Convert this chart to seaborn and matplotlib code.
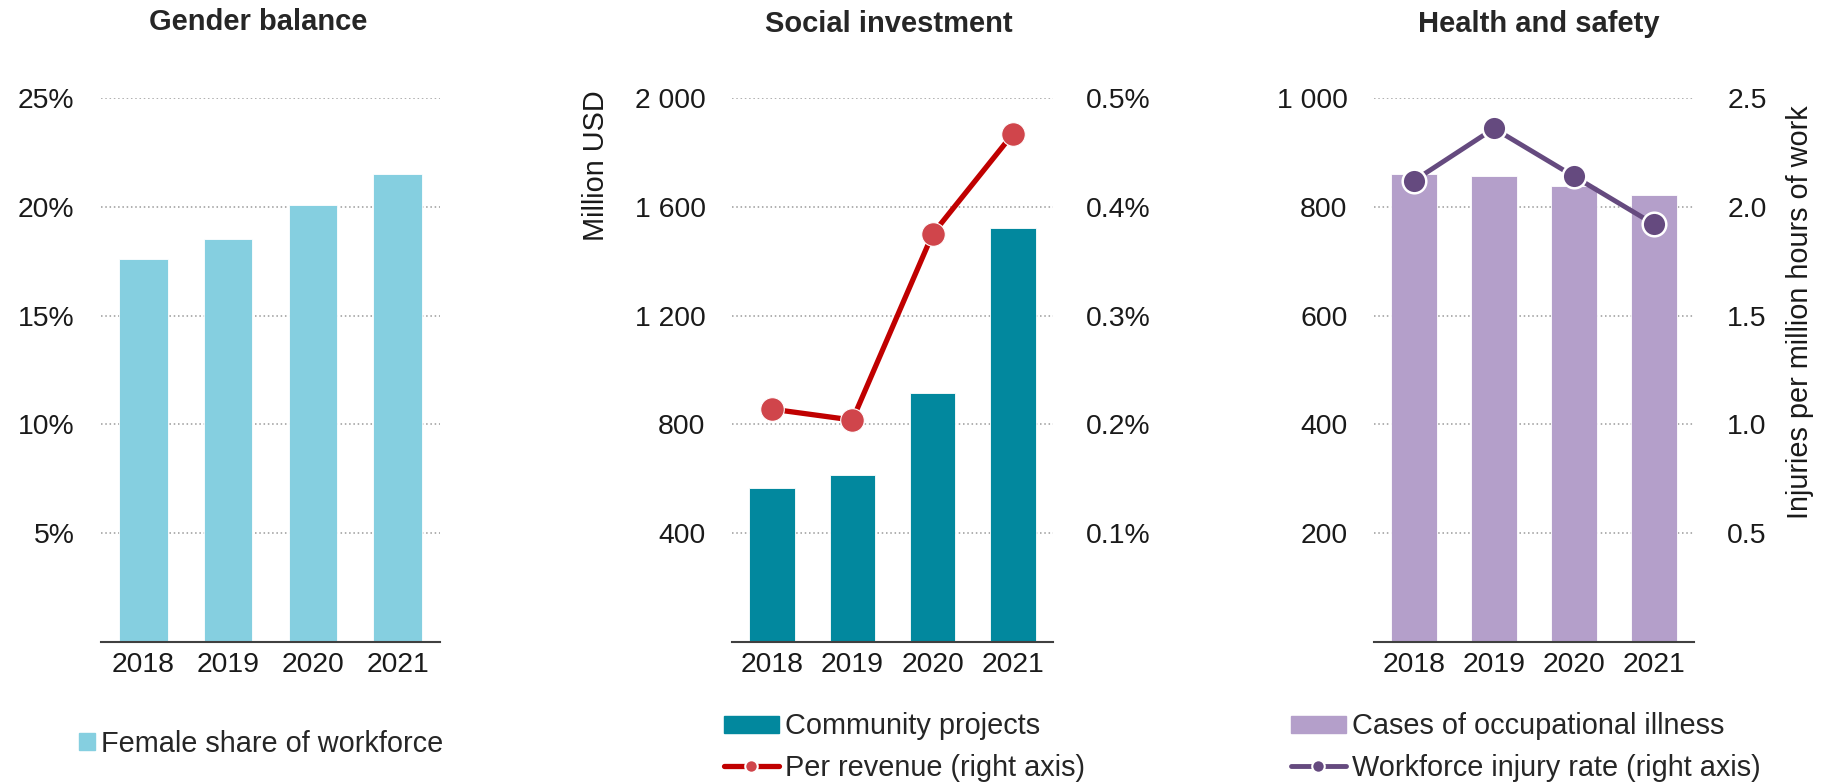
import numpy as np
import matplotlib
matplotlib.use('Agg')
import matplotlib.pyplot as plt
import seaborn as sns
from matplotlib.ticker import FuncFormatter, FixedLocator
from matplotlib.lines import Line2D
from matplotlib.patches import Patch

sns.set_style('white')
plt.rcParams['font.family'] = ['Liberation Sans', 'DejaVu Sans']

# data
years = ['2018', '2019', '2020', '2021']
female_share = [17.6, 18.5, 20.1, 21.5]           # % of workforce
community_projects = [565, 615, 916, 1523]        # million USD
per_revenue = [0.214, 0.204, 0.375, 0.467]        # % of revenue (right axis)
illness_cases = [861, 856, 839, 822]              # cases
injury_rate = [2.12, 2.36, 2.14, 1.92]            # per million hours (right axis)

LIGHT_BLUE = '#85cfe0'
TEAL = '#02889e'
LAVENDER = '#b49fca'
RED_LINE = '#c00000'
RED_DOT = '#d0454b'
PURPLE = '#654a7f'
FS = 20.4      # tick labels
LFS = 20.8     # legend / axis labels

W, H = 1828, 783
fig = plt.figure(figsize=(W / 100, H / 100), dpi=100)


def px_axes(x0, x1, y_top=98, y_bot=642):
    return fig.add_axes([x0 / W, 1 - y_bot / H, (x1 - x0) / W, (y_bot - y_top) / H])


def style_axis(ax, ymax, step, fmt):
    ax.set_ylim(0, ymax)
    ax.set_xlim(-0.5, len(years) - 0.5)
    ticks = np.arange(step, ymax + step / 2, step)
    ax.yaxis.set_major_locator(FixedLocator(ticks))
    ax.yaxis.set_major_formatter(FuncFormatter(fmt))
    ax.grid(axis='y', color='#9a9a9a', linestyle=(0, (1, 1.8)), linewidth=1.1)
    ax.grid(axis='x', visible=False)
    ax.set_axisbelow(True)
    for s in ['left', 'right', 'top']:
        ax.spines[s].set_visible(False)
    ax.spines['bottom'].set_color('#404040')
    ax.spines['bottom'].set_linewidth(1.5)
    ax.tick_params(axis='y', length=0, pad=19, labelsize=FS, colors='#1a1a1a')
    ax.tick_params(axis='x', length=0, pad=7, labelsize=FS, colors='#1a1a1a')
    ax.set_xlabel('')
    ax.set_ylabel('')


def style_right(ax2, ymax, step, fmt):
    ax2.set_ylim(0, ymax)
    ticks = np.arange(step, ymax + step / 2, step)
    ax2.yaxis.set_major_locator(FixedLocator(ticks))
    ax2.yaxis.set_major_formatter(FuncFormatter(fmt))
    ax2.grid(False)
    for s in ['left', 'right', 'top', 'bottom']:
        ax2.spines[s].set_visible(False)
    ax2.tick_params(axis='y', length=0, pad=24, labelsize=FS, colors='#1a1a1a')
    ax2.set_ylabel('')


def space_thousands(v, pos):
    return f'{v:,.0f}'.replace(',', ' ')


def legend_at(handles, x_px, y_px, **kw):
    fig.legend(handles=handles, loc='center left', bbox_to_anchor=(x_px / W, 1 - y_px / H),
               frameon=False, fontsize=LFS, handletextpad=0.22, borderpad=0,
               borderaxespad=0, **kw)


pos = np.arange(len(years))

# ---- Gender balance
ax1 = px_axes(101, 440)
sns.barplot(x=years, y=female_share, color=LIGHT_BLUE, saturation=1, width=0.57,
            edgecolor='white', linewidth=0.6, ax=ax1)
style_axis(ax1, 25, 5, lambda v, p: f'{v:.0f}%')
fig.text(258 / W, 1 - 22 / H, 'Gender balance', ha='center', va='center',
         fontsize=21, fontweight='bold')
legend_at([Patch(color=LIGHT_BLUE, label='Female share of workforce')], 79, 744,
          handlelength=0.54, handleheight=0.54)

# ---- Social investment
ax2 = px_axes(732, 1053)
sns.barplot(x=years, y=community_projects, color=TEAL, saturation=1, width=0.57,
            edgecolor='white', linewidth=0.6, ax=ax2)
style_axis(ax2, 2000, 400, space_thousands)
ax2.set_ylabel('Million USD', fontsize=LFS, color='#1a1a1a')
ax2.yaxis.set_label_coords(-0.38, 0.875)
ax2r = ax2.twinx()
sns.lineplot(x=pos, y=per_revenue, color=RED_LINE, linewidth=3.8, marker='o',
             markersize=17, markerfacecolor=RED_DOT, markeredgecolor='white',
             markeredgewidth=0.8, ax=ax2r)
style_right(ax2r, 0.5, 0.1, lambda v, p: f'{v:.1f}%')
fig.text(889 / W, 1 - 24 / H, 'Social investment', ha='center', va='center',
         fontsize=21, fontweight='bold')
legend_at([Patch(color=TEAL, label='Community projects'),
           Line2D([], [], color=RED_LINE, lw=3.8, marker='o', markersize=9,
                  markerfacecolor=RED_DOT, markeredgecolor='white',
                  markeredgewidth=1.5, label='Per revenue (right axis)')],
          724, 747, handlelength=1.9, handleheight=0.54, labelspacing=0.45)

# ---- Health and safety
ax3 = px_axes(1374, 1694)
sns.barplot(x=years, y=illness_cases, color=LAVENDER, saturation=1, width=0.57,
            edgecolor='white', linewidth=0.6, ax=ax3)
style_axis(ax3, 1000, 200, space_thousands)
ax3r = ax3.twinx()
sns.lineplot(x=pos, y=injury_rate, color=PURPLE, linewidth=3.5, marker='o',
             markersize=17, markerfacecolor=PURPLE, markeredgecolor='white',
             markeredgewidth=1.8, ax=ax3r)
style_right(ax3r, 2.5, 0.5, lambda v, p: f'{v:.1f}')
ax3r.set_ylabel('Injuries per million hours of work', fontsize=LFS, color='#1a1a1a')
ax3r.yaxis.set_label_coords(1.2875, 0.607)
fig.text(1539 / W, 1 - 24 / H, 'Health and safety', ha='center', va='center',
         fontsize=21, fontweight='bold')
legend_at([Patch(color=LAVENDER, label='Cases of occupational illness'),
           Line2D([], [], color=PURPLE, lw=3.5, marker='o', markersize=9,
                  markerfacecolor=PURPLE, markeredgecolor='white',
                  markeredgewidth=1.5, label='Workforce injury rate (right axis)')],
          1291, 747, handlelength=1.9, handleheight=0.54, labelspacing=0.45)

fig.savefig('out.png', dpi=100, facecolor='white')
